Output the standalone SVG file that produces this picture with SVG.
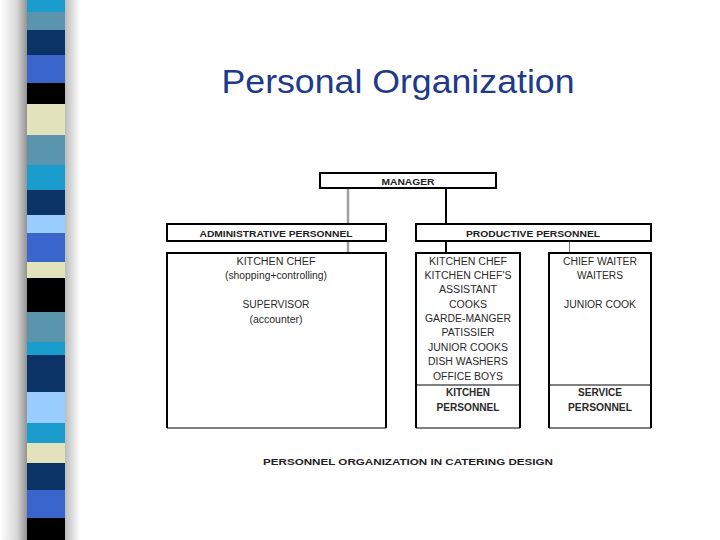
<svg xmlns="http://www.w3.org/2000/svg" width="720" height="540" viewBox="0 0 720 540">
<defs>
<linearGradient id="shL" x1="0" y1="0" x2="1" y2="0">
<stop offset="0" stop-color="#ffffff"/>
<stop offset="0.6" stop-color="#d8d8d8"/>
<stop offset="1" stop-color="#8c8c8c"/>
</linearGradient>
<linearGradient id="shR" x1="0" y1="0" x2="1" y2="0">
<stop offset="0" stop-color="#b8b8b8"/>
<stop offset="1" stop-color="#ffffff"/>
</linearGradient>
</defs>
<style>
.box{fill:#fff;stroke:#000;stroke-width:2}
.hd{font-family:"Liberation Sans",Arial,sans-serif;font-size:9.5px;font-weight:bold;fill:#222;text-anchor:middle}
.tx{font-family:"Liberation Sans",Arial,sans-serif;font-size:10px;fill:#2a2a2a;text-anchor:middle}
.tb{font-family:"Liberation Sans",Arial,sans-serif;font-size:10px;font-weight:bold;fill:#2a2a2a;text-anchor:middle}
</style>
<rect width="720" height="540" fill="#fff"/>
<g id="stripe">
<rect x="0" y="0" width="28" height="540" fill="url(#shL)"/>
<rect x="64" y="0" width="16" height="540" fill="url(#shR)"/>
<rect x="27" y="0" width="38" height="12" fill="#1a9ccc"/>
<rect x="27" y="12" width="38" height="18" fill="#5a94ad"/>
<rect x="27" y="30" width="38" height="25" fill="#0b3366"/>
<rect x="27" y="55" width="38" height="28" fill="#3a66cc"/>
<rect x="27" y="83" width="38" height="21" fill="#000"/>
<rect x="27" y="104" width="38" height="31" fill="#e2e2bc"/>
<rect x="27" y="135" width="38" height="30" fill="#5a94ad"/>
<rect x="27" y="165" width="38" height="25" fill="#1a9ccc"/>
<rect x="27" y="190" width="38" height="25" fill="#0b3366"/>
<rect x="27" y="215" width="38" height="18" fill="#99ccff"/>
<rect x="27" y="233" width="38" height="29" fill="#3a66cc"/>
<rect x="27" y="262" width="38" height="16" fill="#e2e2bc"/>
<rect x="27" y="278" width="38" height="34" fill="#000"/>
<rect x="27" y="312" width="38" height="30" fill="#5a94ad"/>
<rect x="27" y="342" width="38" height="13" fill="#1a9ccc"/>
<rect x="27" y="355" width="38" height="37" fill="#0b3366"/>
<rect x="27" y="392" width="38" height="31" fill="#99ccff"/>
<rect x="27" y="423" width="38" height="20" fill="#1a9ccc"/>
<rect x="27" y="443" width="38" height="20" fill="#e2e2bc"/>
<rect x="27" y="463" width="38" height="27" fill="#0b3366"/>
<rect x="27" y="490" width="38" height="28" fill="#3a66cc"/>
<rect x="27" y="518" width="38" height="22" fill="#000"/>
</g>
<text x="398" y="93" font-family="'Liberation Sans',Arial,sans-serif" font-size="33" fill="#1e3a8a" text-anchor="middle" textLength="353" lengthAdjust="spacingAndGlyphs">Personal Organization</text>
<g id="connectors">
<line x1="348" y1="189" x2="348" y2="254" stroke="#a0a0a0" stroke-width="2.5"/>
<line x1="446" y1="189" x2="446" y2="224" stroke="#000" stroke-width="2"/>
<line x1="446" y1="241" x2="446" y2="253" stroke="#000" stroke-width="2"/>
<line x1="569.5" y1="241" x2="569.5" y2="253" stroke="#777" stroke-width="1"/>
</g>
<g id="manager">
<rect class="box" x="320" y="173" width="176" height="15"/>
<text class="hd" x="408" y="184.5" textLength="53" lengthAdjust="spacingAndGlyphs">MANAGER</text>
</g>
<g id="admin">
<rect class="box" x="167" y="224" width="219" height="17"/>
<text class="hd" x="276" y="236.5" textLength="153" lengthAdjust="spacingAndGlyphs">ADMINISTRATIVE PERSONNEL</text>
</g>
<g id="productive">
<rect class="box" x="416" y="224" width="235" height="17"/>
<text class="hd" x="533" y="236.5" textLength="134" lengthAdjust="spacingAndGlyphs">PRODUCTIVE PERSONNEL</text>
</g>
<g id="admin-staff">
<path d="M167 428 V253 H386 V428" fill="#fff" stroke="#000" stroke-width="2"/>
<line x1="167" y1="428" x2="386" y2="428" stroke="#000" stroke-width="1"/>
<text class="tx" x="276" y="264.5" textLength="79" lengthAdjust="spacingAndGlyphs">KITCHEN CHEF</text>
<text class="tx" x="276" y="278.5" textLength="102" lengthAdjust="spacingAndGlyphs">(shopping+controlling)</text>
<text class="tx" x="276" y="307.5" textLength="67" lengthAdjust="spacingAndGlyphs">SUPERVISOR</text>
<text class="tx" x="276" y="322.5" textLength="53" lengthAdjust="spacingAndGlyphs">(accounter)</text>
</g>
<g id="kitchen-staff">
<path d="M416 428 V253 H520 V428" fill="#fff" stroke="#000" stroke-width="2"/>
<line x1="416" y1="385" x2="520" y2="385" stroke="#000" stroke-width="1"/>
<line x1="416" y1="428" x2="520" y2="428" stroke="#000" stroke-width="1"/>
<text class="tx" x="468" y="264.5" textLength="78" lengthAdjust="spacingAndGlyphs">KITCHEN CHEF</text>
<text class="tx" x="468" y="279" textLength="87" lengthAdjust="spacingAndGlyphs">KITCHEN CHEF'S</text>
<text class="tx" x="468" y="293" textLength="58" lengthAdjust="spacingAndGlyphs">ASSISTANT</text>
<text class="tx" x="468" y="307.5" textLength="38" lengthAdjust="spacingAndGlyphs">COOKS</text>
<text class="tx" x="468" y="321.5" textLength="86" lengthAdjust="spacingAndGlyphs">GARDE-MANGER</text>
<text class="tx" x="468" y="336" textLength="53" lengthAdjust="spacingAndGlyphs">PATISSIER</text>
<text class="tx" x="468" y="350.5" textLength="80" lengthAdjust="spacingAndGlyphs">JUNIOR COOKS</text>
<text class="tx" x="468" y="365" textLength="80" lengthAdjust="spacingAndGlyphs">DISH WASHERS</text>
<text class="tx" x="468" y="380" textLength="70" lengthAdjust="spacingAndGlyphs">OFFICE BOYS</text>
<text class="tb" x="468" y="395.5" textLength="44" lengthAdjust="spacingAndGlyphs">KITCHEN</text>
<text class="tb" x="468" y="410.5" textLength="63" lengthAdjust="spacingAndGlyphs">PERSONNEL</text>
</g>
<g id="service-staff">
<path d="M549 428 V253 H651 V428" fill="#fff" stroke="#000" stroke-width="2"/>
<line x1="549" y1="385" x2="651" y2="385" stroke="#000" stroke-width="1"/>
<line x1="549" y1="428" x2="651" y2="428" stroke="#000" stroke-width="1"/>
<text class="tx" x="600" y="264.5" textLength="74" lengthAdjust="spacingAndGlyphs">CHIEF WAITER</text>
<text class="tx" x="600" y="278.5" textLength="46" lengthAdjust="spacingAndGlyphs">WAITERS</text>
<text class="tx" x="600" y="307.5" textLength="72" lengthAdjust="spacingAndGlyphs">JUNIOR COOK</text>
<text class="tb" x="600" y="395.5" textLength="44" lengthAdjust="spacingAndGlyphs">SERVICE</text>
<text class="tb" x="600" y="410.5" textLength="64" lengthAdjust="spacingAndGlyphs">PERSONNEL</text>
</g>
<text class="hd" x="408" y="465" font-size="10.5" textLength="290" lengthAdjust="spacingAndGlyphs">PERSONNEL ORGANIZATION IN CATERING DESIGN</text>
</svg>
